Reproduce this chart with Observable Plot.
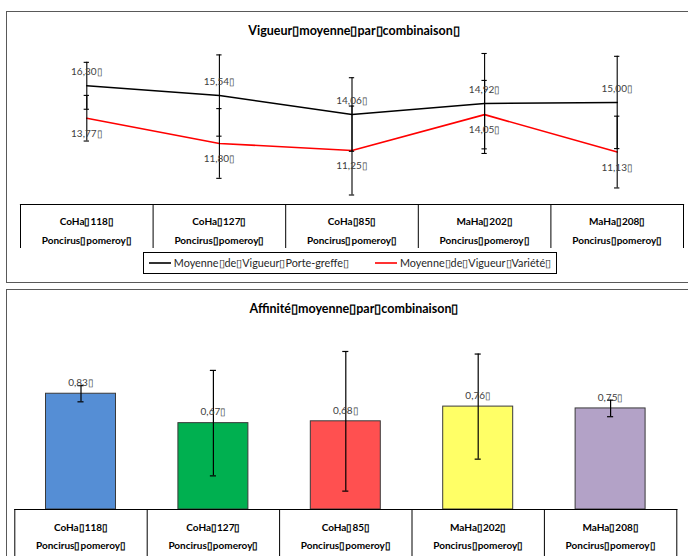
<!DOCTYPE html>
<html><head><meta charset="utf-8">
<script src="https://cdn.jsdelivr.net/npm/d3@7"></script>
<script src="https://cdn.jsdelivr.net/npm/@observablehq/plot@0.6"></script>
<style>
body{margin:0;background:#fff;font-family:Lato,"Open Sans",sans-serif;}
#root{position:relative;width:688px;height:556px;overflow:hidden;background:#fff;}
.frame{position:absolute;border:1px solid #595959;box-sizing:border-box;}
.title{position:absolute;left:0;width:708px;text-align:center;font-weight:bold;font-size:12.5px;line-height:14px;color:#000;}
.legend{position:absolute;left:143px;top:252px;width:414px;height:22px;border:1px solid #000;box-sizing:border-box;display:flex;align-items:center;justify-content:center;gap:26px;font-size:10.8px;color:#262626;background:#fff;}
.legend span.item{display:flex;align-items:center;gap:3px;}
</style></head><body><div id="root"></div>
<script>
// ---- data ----
const BOX = "\u25AF";
const combinaisons = ["CoHa 118", "CoHa 127", "CoHa 85", "MaHa 202", "MaHa 208"];
const varietes = ["Poncirus pomeroy", "Poncirus pomeroy", "Poncirus pomeroy", "Poncirus pomeroy", "Poncirus pomeroy"];
const vigueurPorteGreffe = [16.30, 15.54, 14.06, 14.92, 15.00];
const errPorteGreffe = [1.83, 3.17, 2.87, 3.90, 3.60];
const vigueurVariete = [13.77, 11.80, 11.25, 14.05, 11.13];
const errVariete = [1.78, 2.72, 3.47, 2.67, 2.80];
const affinite = [0.83, 0.67, 0.68, 0.76, 0.75];
const errAffinite = [0.044, 0.287, 0.38, 0.286, 0.045];
const barColors = ["#558ED5", "#00B050", "#FF5050", "#FFFF66", "#B3A2C7"];
const seriesNames = ["Moyenne de Vigueur Porte-greffe", "Moyenne de Vigueur Variété"];
const seriesColors = ["#000000", "#FF0000"];
const titles = ["Vigueur moyenne par combinaison", "Affinité moyenne par combinaison"];
const vigueurDomain = [7, 18];
const affiniteDomain = [0.2, 1.2];

// ---- helpers ----
const lab = s => s.split(" ").join(BOX) + BOX;
const num = v => v.toFixed(2).replace(".", ",") + BOX;
const root = document.getElementById("root");
function place(el, left, y) { el.style.position = "absolute"; el.style.left = left + "px"; el.style.top = y + "px"; root.appendChild(el); return el; }
function div(cls, left, y, w, h) { const d = document.createElement("div"); d.className = cls; d.style.left = left + "px"; d.style.top = y + "px"; if (w) d.style.width = w + "px"; if (h) d.style.height = h + "px"; root.appendChild(d); return d; }

const n = combinaisons.length;
const xDom = [-0.5, n - 0.5];
const capW = 0.02;

// frames
div("frame", 6, 11, 720, 272);
div("frame", 6, 289, 720, 300);
// titles
div("title", 0, 24).textContent = lab(titles[0]);
div("title", 0, 302).textContent = lab(titles[1]);

// ---- top line chart ----
const pg = combinaisons.map((c, i) => ({i, v: vigueurPorteGreffe[i], e: errPorteGreffe[i]}));
const va = combinaisons.map((c, i) => ({i, v: vigueurVariete[i], e: errVariete[i]}));
const allPts = pg.concat(va);
const common = {fontFamily: "Lato, 'Open Sans', sans-serif"};
const lineChart = Plot.plot({
  width: 688, height: 205, marginLeft: 20, marginRight: 5, marginTop: 63.5, marginBottom: 0.5,
  x: {domain: xDom, axis: null},
  y: {domain: vigueurDomain, axis: null},
  style: {background: "transparent", overflow: "visible", ...common},
  marks: [
    Plot.line(pg, {x: "i", y: "v", stroke: seriesColors[0], strokeWidth: 1.6}),
    Plot.line(va, {x: "i", y: "v", stroke: seriesColors[1], strokeWidth: 1.6}),
    Plot.ruleX(allPts, {x: "i", y1: d => d.v - d.e, y2: d => d.v + d.e, stroke: "#000", strokeWidth: 1.1}),
    Plot.ruleY(allPts, {y: d => d.v + d.e, x1: d => d.i - capW, x2: d => d.i + capW, stroke: "#000", strokeWidth: 1.1}),
    Plot.ruleY(allPts, {y: d => d.v - d.e, x1: d => d.i - capW, x2: d => d.i + capW, stroke: "#000", strokeWidth: 1.1}),
    Plot.text(pg, {x: "i", y: "v", text: d => num(d.v), dy: -13.5, fontSize: 10, fill: "#404040"}),
    Plot.text(va, {x: "i", y: "v", text: d => num(d.v), dy: 15.5, fontSize: 10, fill: "#404040"})
  ]
});
place(lineChart, 0, 0);

const table1 = Plot.plot({
  width: 688, height: 45, marginLeft: 20, marginRight: 5, marginTop: 1, marginBottom: 0,
  x: {domain: xDom, axis: null},
  style: {background: "transparent", overflow: "visible", ...common},
  marks: [
    Plot.frame({anchor: "top", stroke: "#000", strokeWidth: 1.2}),
    Plot.ruleX(d3.range(n + 1), {x: d => d - 0.5, stroke: "#000", strokeWidth: 1}),
    Plot.text(combinaisons, {x: (d, i) => i, text: (d, i) => lab(d) + "\n" + lab(varietes[i]), frameAnchor: "middle", lineHeight: 1.9, fontSize: 10, fontWeight: "bold", fill: "#000", dy: 1.5})
  ]
});
place(table1, 0, 203);

// legend
const leg = div("legend", 143, 252);
seriesNames.forEach((s, k) => {
  const it = document.createElement("span"); it.className = "item";
  it.innerHTML = `<svg width="22" height="6"><line x1="0" x2="22" y1="3" y2="3" stroke="${seriesColors[k]}" stroke-width="1.6"/></svg><span>${lab(s)}</span>`;
  leg.appendChild(it);
});

// ---- bottom bar chart ----
const bars = combinaisons.map((c, i) => ({i, v: affinite[i], e: errAffinite[i], color: barColors[i]}));
const halfBar = 0.2643;
const barChart = Plot.plot({
  width: 688, height: 210, marginLeft: 14.3, marginRight: 11.7, marginTop: 26.25, marginBottom: 0,
  x: {domain: xDom, axis: null},
  y: {domain: affiniteDomain, axis: null},
  color: {type: "identity"},
  style: {background: "transparent", overflow: "visible", ...common},
  marks: [
    Plot.rectY(bars, {x1: d => d.i - halfBar, x2: d => d.i + halfBar, y1: affiniteDomain[0], y2: "v", fill: "color", stroke: "#3a3a3a", strokeWidth: 1}),
    Plot.ruleX(bars, {x: "i", y1: d => d.v - d.e, y2: d => d.v + d.e, stroke: "#000", strokeWidth: 1.2}),
    Plot.ruleY(bars, {y: d => d.v + d.e, x1: d => d.i - 0.023, x2: d => d.i + 0.023, stroke: "#000", strokeWidth: 1.2}),
    Plot.ruleY(bars, {y: d => d.v - d.e, x1: d => d.i - 0.023, x2: d => d.i + 0.023, stroke: "#000", strokeWidth: 1.2}),
    Plot.text(bars, {x: "i", y: "v", text: d => num(d.v), dy: -11, fontSize: 10, fill: "#404040"})
  ]
});
place(barChart, 0, 299);

const table2 = Plot.plot({
  width: 688, height: 48, marginLeft: 14.3, marginRight: 11.7, marginTop: 1, marginBottom: 0,
  x: {domain: xDom, axis: null},
  style: {background: "transparent", overflow: "visible", ...common},
  marks: [
    Plot.frame({anchor: "top", stroke: "#000", strokeWidth: 1.2}),
    Plot.ruleX(d3.range(n + 1), {x: d => d - 0.5, stroke: "#000", strokeWidth: 1}),
    Plot.text(combinaisons, {x: (d, i) => i, text: (d, i) => lab(d) + "\n" + lab(varietes[i]), frameAnchor: "middle", lineHeight: 1.8, fontSize: 10, fontWeight: "bold", fill: "#000", dy: 1.5})
  ]
});
place(table2, 0, 508);
</script></body></html>
